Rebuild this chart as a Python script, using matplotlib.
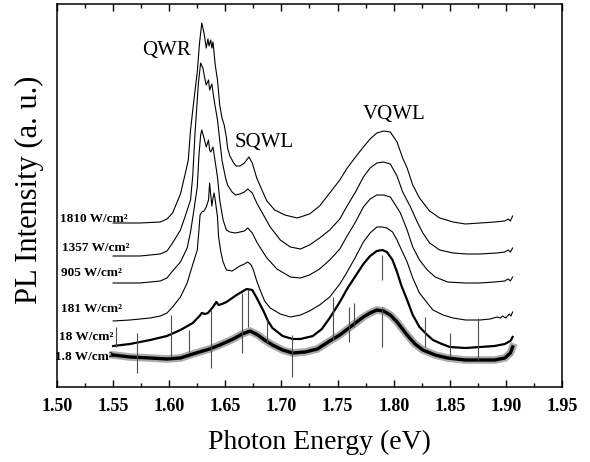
import numpy as np
import matplotlib.pyplot as plt
from matplotlib.ticker import MultipleLocator, FormatStrFormatter

plt.rcParams['font.family'] = ['Liberation Serif', 'DejaVu Serif']

# PL spectra (energy in eV, intensity in a.u., already offset)
e_1810 = [1.550, 1.574, 1.592, 1.598, 1.603, 1.610, 1.614, 1.617, 1.619, 1.622,
          1.625, 1.627, 1.629, 1.631, 1.633, 1.6345, 1.6355, 1.637, 1.638, 1.639,
          1.641, 1.643, 1.645, 1.647, 1.649, 1.651, 1.652, 1.654, 1.657, 1.6595,
          1.663, 1.667, 1.671, 1.674, 1.678, 1.683, 1.687, 1.694, 1.703, 1.714,
          1.725, 1.734, 1.743, 1.752, 1.758, 1.766, 1.773, 1.779, 1.785, 1.791,
          1.797, 1.803, 1.808, 1.812, 1.817, 1.823, 1.832, 1.841, 1.853, 1.864,
          1.877, 1.890, 1.899, 1.902, 1.904, 1.906]
i_1810 = [164, 164, 165, 168, 174, 193, 212, 227, 257, 287,
          315, 344, 364, 354, 339, 348, 341, 347, 339, 345,
          322, 307, 282, 269, 262, 249, 239, 231, 225, 221,
          221, 224, 230, 224, 209, 196, 186, 177, 172, 169,
          173, 181, 194, 207, 218, 230, 240, 248, 254, 256,
          255, 245, 229, 219, 202, 189, 176, 169, 165, 163,
          164, 165, 166, 168, 166, 171]

e_1357 = [1.550, 1.574, 1.592, 1.598, 1.603, 1.610, 1.614, 1.619, 1.621, 1.623,
          1.626, 1.628, 1.630, 1.632, 1.633, 1.635, 1.636, 1.638, 1.640, 1.643,
          1.645, 1.647, 1.650, 1.652, 1.656, 1.659, 1.663, 1.667, 1.670, 1.674,
          1.678, 1.683, 1.690, 1.699, 1.708, 1.717, 1.725, 1.734, 1.743, 1.752,
          1.758, 1.766, 1.773, 1.779, 1.785, 1.791, 1.797, 1.803, 1.808, 1.815,
          1.821, 1.826, 1.832, 1.841, 1.853, 1.865, 1.877, 1.892, 1.899, 1.902,
          1.904, 1.906]
i_1357 = [131, 131, 133, 136, 144, 157, 170, 187, 212, 254,
          304, 324, 319, 307, 302, 307, 297, 303, 287, 267,
          247, 227, 210, 202, 195, 192, 193, 195, 198, 194,
          184, 174, 160, 147, 140, 138, 142, 149, 157, 168,
          180, 195, 210, 219, 224, 225, 223, 211, 195, 180,
          165, 154, 144, 137, 134, 133, 133, 134, 135, 137,
          135, 139]

e_905 = [1.550, 1.574, 1.592, 1.598, 1.603, 1.610, 1.616, 1.619, 1.622, 1.625,
         1.6265, 1.628, 1.629, 1.631, 1.633, 1.635, 1.636, 1.637, 1.639, 1.641,
         1.643, 1.645, 1.648, 1.651, 1.654, 1.659, 1.663, 1.667, 1.670, 1.674,
         1.678, 1.683, 1.687, 1.696, 1.708, 1.717, 1.725, 1.734, 1.743, 1.752,
         1.758, 1.766, 1.773, 1.779, 1.785, 1.791, 1.797, 1.801, 1.806, 1.812,
         1.817, 1.823, 1.830, 1.837, 1.848, 1.864, 1.877, 1.890, 1.899, 1.902,
         1.904, 1.906]
i_905 = [104, 104, 106, 109, 116, 125, 139, 155, 177, 200,
         232, 252, 257, 249, 240, 247, 237, 235, 240, 225,
         210, 187, 167, 157, 155, 154, 155, 156, 159, 154,
         145, 136, 129, 118, 110, 109, 112, 118, 127, 138,
         150, 165, 180, 188, 192, 192, 190, 183, 174, 157,
         140, 127, 117, 110, 105, 104, 104, 105, 106, 108,
         106, 110]

e_181 = [1.550, 1.565, 1.583, 1.592, 1.598, 1.603, 1.610, 1.616, 1.620, 1.625,
         1.6265, 1.6275, 1.629, 1.631, 1.633, 1.635, 1.636, 1.637, 1.638, 1.639,
         1.640, 1.641, 1.643, 1.644, 1.646, 1.648, 1.651, 1.656, 1.663, 1.667,
         1.670, 1.673, 1.675, 1.678, 1.681, 1.685, 1.690, 1.699, 1.708, 1.717,
         1.725, 1.734, 1.743, 1.752, 1.758, 1.766, 1.773, 1.779, 1.785, 1.790,
         1.794, 1.799, 1.803, 1.807, 1.812, 1.817, 1.823, 1.830, 1.835, 1.844,
         1.853, 1.864, 1.877, 1.886, 1.892, 1.895, 1.897, 1.900, 1.903, 1.9045,
         1.906]
i_181 = [66, 67, 69, 71, 74, 80, 90, 104, 119, 137,
         157, 172, 175, 176, 180, 187, 204, 192, 181, 189,
         194, 187, 170, 150, 135, 125, 117, 116, 121, 123,
         125, 122, 117, 106, 97, 86, 79, 73, 70, 72,
         76, 82, 90, 103, 114, 130, 145, 154, 160, 160,
         159, 155, 147, 137, 125, 109, 94, 84, 77, 72,
         69, 67, 67, 68, 70, 69, 71, 69, 73, 71,
         75]

e_18 = [1.550, 1.565, 1.583, 1.598, 1.610, 1.621, 1.627, 1.629, 1.632, 1.6345,
        1.639, 1.642, 1.644, 1.647, 1.651, 1.660, 1.666, 1.669, 1.674, 1.678,
        1.684, 1.688, 1.692, 1.701, 1.710, 1.717, 1.728, 1.736, 1.743, 1.752,
        1.759, 1.766, 1.773, 1.779, 1.785, 1.790, 1.794, 1.799, 1.803, 1.807,
        1.812, 1.817, 1.823, 1.830, 1.835, 1.843, 1.850, 1.864, 1.877, 1.890,
        1.899, 1.904, 1.906]
i_18 = [41, 43, 47, 51, 57, 64, 71, 74, 73, 74,
        80, 85, 82, 83, 85, 92, 96, 98, 97, 89,
        76, 66, 59, 51, 48, 48, 51, 58, 69, 85,
        99, 111, 123, 131, 136, 137, 135, 127, 115, 101,
        87, 72, 60, 52, 47, 43, 40, 39, 40, 41,
        43, 46, 50]

e_1p8 = [1.550, 1.565, 1.583, 1.598, 1.610, 1.621, 1.627, 1.636, 1.645, 1.657,
         1.665, 1.672, 1.679, 1.685, 1.692, 1.701, 1.710, 1.721, 1.732, 1.743,
         1.752, 1.759, 1.766, 1.773, 1.779, 1.785, 1.791, 1.797, 1.803, 1.812,
         1.819, 1.826, 1.837, 1.848, 1.864, 1.877, 1.890, 1.899, 1.904, 1.906]
i_1p8 = [32, 30, 29, 28, 29, 33, 35, 38, 42, 48,
         53, 56, 52, 47, 42, 37, 34, 35, 38, 46,
         52, 58, 64, 70, 74, 77, 76, 72, 65, 52,
         43, 37, 32, 29, 27, 27, 27, 29, 34, 40]

# cosmic-ray spikes on the two weakest spectra
spike_e = [1.553, 1.571, 1.602, 1.618, 1.637, 1.665, 1.670, 1.687, 1.709,
           1.746, 1.760, 1.765, 1.790, 1.790, 1.828, 1.850, 1.875]
spike_hi = [60, 54, 72, 57, 77, 94, 97, 67, 52, 90, 80, 84, 132, 80, 70, 54, 69]
spike_lo = [40, 14, 30, 35, 19, 34, 60, 44, 10, 47, 45, 60, 107, 40, 40, 30, 27]

power_labels = ['1810 W/cm²', '1357 W/cm²', '905 W/cm²',
                '181 W/cm²', '18 W/cm²', '1.8 W/cm²']
label_e = [1.5633, 1.5642, 1.558, 1.558, 1.550, 1.550]
label_i = [168, 139, 114, 78, 50, 30]

peak_names = ['QWR', 'SQWL', 'VQWL']
peak_e = [1.598, 1.685, 1.800]
peak_i = [336, 245, 272]

#################
    #PLOT#
#################

fig = plt.figure(figsize=(5.9, 4.62), dpi=100)
ax = fig.add_axes([57/590, 75/462, 505/590, 383/462])

spectra = [(e_1810, i_1810, 0.8), (e_1357, i_1357, 0.8), (e_905, i_905, 0.8),
           (e_181, i_181, 0.8), (e_18, i_18, 1.6)]
for e, i, lw in spectra:
    ax.plot(e, i, color='black', lw=lw, solid_joinstyle='round')

# the weakest spectrum is a noisy band: grey halo plus dark core
ax.plot(e_1p8, i_1p8, color='0.45', lw=5.5, alpha=0.6, solid_joinstyle='round')
ax.plot(e_1p8, i_1p8, color='black', lw=2.4, solid_joinstyle='round')

ax.vlines(spike_e, spike_lo, spike_hi, color='0.3', lw=0.8)

for txt, x, y in zip(power_labels, label_e, label_i):
    ax.text(x, y, txt, ha='right', va='center', fontsize=9.5,
            fontweight='bold', clip_on=False)

for txt, x, y in zip(peak_names, peak_e, peak_i):
    ax.text(x, y, txt, ha='center', va='center', fontsize=15)

ax.set_xlim(1.50, 1.95)
ax.set_ylim(0, 383)
ax.set_yticks([])
ax.xaxis.set_major_locator(MultipleLocator(0.05))
ax.xaxis.set_minor_locator(MultipleLocator(0.025))
ax.xaxis.set_major_formatter(FormatStrFormatter('%.2f'))
ax.tick_params(axis='x', which='both', direction='in', top=True, bottom=True, width=1)
ax.tick_params(axis='x', which='major', length=5, labelsize=13, pad=8)
ax.tick_params(axis='x', which='minor', length=3)
for lab in ax.get_xticklabels():
    lab.set_fontweight('bold')
for sp in ax.spines.values():
    sp.set_linewidth(1.1)

ax.set_xlabel('Photon Energy (eV)', fontsize=20)
ax.xaxis.set_label_coords(0.519, -0.146)
ax.xaxis.label.set_va('center')
ax.set_ylabel('PL Intensity (a. u.)', fontsize=22)
ax.yaxis.set_label_coords(-0.055, 0.514)
ax.yaxis.label.set_va('center')

fig.savefig('out.png', dpi=100)
